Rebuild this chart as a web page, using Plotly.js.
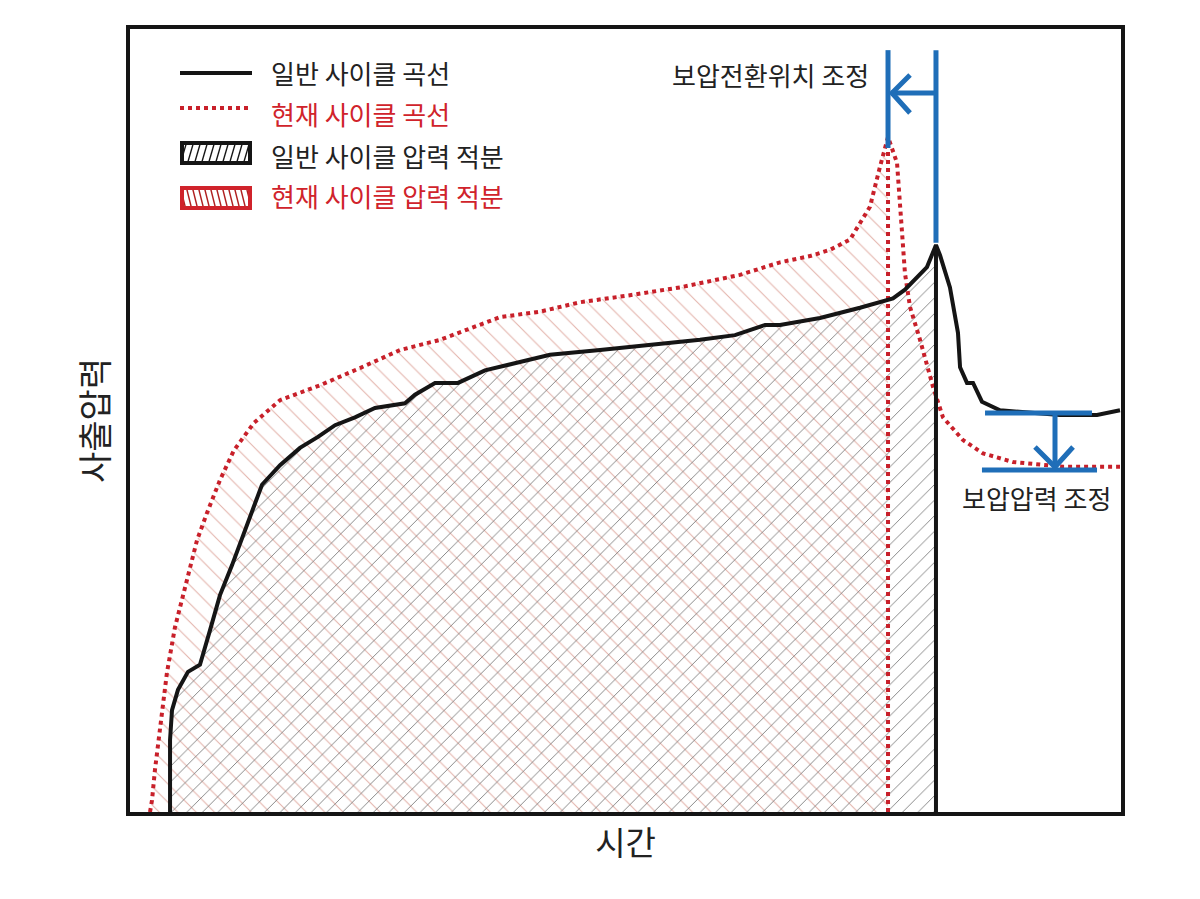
<!DOCTYPE html>
<html>
<head>
<meta charset="utf-8">
<script src="https://cdn.plot.ly/plotly-3.0.1.min.js"></script>
<style>
  html, body { margin: 0; padding: 0; background: #fff; }
  #chart { width: 1200px; height: 899px; }
</style>
</head>
<body>
<div id="chart"></div>
<script>
// ---- data (time, pressure in relative units) ----
const generalTime = [4.04,4.04,4.24,4.84,5.85,7.06,8.07,9.08,10.29,11.60,13.32,15.14,17.15,18.97,20.69,22.70,24.72,27.75,28.76,30.78,33.10,35.82,39.35,42.38,47.43,52.47,57.52,61.05,64.08,65.59,69.63,73.66,75.68,76.99,78.20,80.42,81.33,81.74,82.74,83.55,83.76,84.46,85.07,85.97,87.79,90.82,93.84,97.58,99.90];
const generalPressure = [0,9.2,13.0,15.6,17.9,18.8,23.2,27.7,31.5,36.0,41.8,44.3,46.5,47.9,49.4,50.4,51.6,52.2,53.3,54.8,54.8,56.4,57.5,58.4,59.0,59.6,60.3,60.9,62.2,62.2,63.1,64.4,65.1,65.6,66.7,69.6,72.4,71.1,67.0,61.2,56.8,54.8,54.8,52.4,51.3,51.0,50.7,50.7,51.3];

const currentTime = [2.02,2.22,2.52,2.72,3.23,3.73,4.54,5.75,6.76,7.77,9.08,10.49,12.51,15.14,19.17,23.21,27.25,31.28,37.34,41.37,45.41,50.45,55.50,61.55,65.59,68.62,70.64,72.65,74.67,75.68,76.49,77.40,77.70,78.20,78.71,79.72,81.03,82.04,84.06,86.08,89.10,94.15,99.90];
const currentPressure = [0,1.5,5.4,7.5,13.0,17.8,23.6,29.6,34.7,38.2,42.4,46.2,49.7,52.6,54.5,56.7,59.0,60.3,63.2,63.9,65.1,66.0,67.0,68.6,70.2,71.0,71.8,73.1,77.3,82.4,86.2,82.9,77.3,68.8,64.5,60.3,54.3,50.4,47.5,45.8,44.7,44.1,44.1];

const legendLabels = ['일반 사이클 곡선', '현재 사이클 곡선', '일반 사이클 압력 적분', '현재 사이클 압력 적분'];
const xTitle = '시간';
const yTitle = '사출압력';
const noteSwitch = '보압전환위치 조정';
const noteHold = '보압압력 조정';

// ---- styles ----
const BLACK = '#151515';
const RED = '#c8202a';
const RED_TEXT = '#d0232b';
const BLUE = '#1f6eb8';
const TEXT = '#222222';
const FONT = '"Noto Sans CJK KR", "Noto Sans", sans-serif';

function argmax(a) { let k = 0; for (let i = 1; i < a.length; i++) if (a[i] > a[k]) k = i; return k; }

const gPk = argmax(generalPressure);
const cPk = argmax(currentPressure);
const gPeakX = generalTime[gPk], gPeakY = generalPressure[gPk];
const cPeakX = currentTime[cPk], cPeakY = currentPressure[cPk];

// integral regions (rise up to peak, then straight down to zero)
const gFillX = generalTime.slice(0, gPk + 1).concat([gPeakX]);
const gFillY = generalPressure.slice(0, gPk + 1).concat([0]);
const cFillX = currentTime.slice(0, cPk + 1).concat([cPeakX]);
const cFillY = currentPressure.slice(0, cPk + 1).concat([0]);

const traces = [
  { x: cFillX, y: cFillY, type: 'scatter', mode: 'none', fill: 'toself',
    fillcolor: 'rgba(0,0,0,0)',
    fillpattern: { shape: '\\', fgcolor: '#e3b2aa', bgcolor: 'rgba(0,0,0,0)', size: 13, solidity: 0.08 },
    name: legendLabels[3], showlegend: false, hoverinfo: 'skip' },
  { x: gFillX, y: gFillY, type: 'scatter', mode: 'none', fill: 'toself',
    fillcolor: 'rgba(0,0,0,0)',
    fillpattern: { shape: '/', fgcolor: '#7a7a7a', bgcolor: 'rgba(0,0,0,0)', size: 11, solidity: 0.08 },
    name: legendLabels[2], showlegend: false, hoverinfo: 'skip' },
  { x: [cPeakX, cPeakX], y: [0, cPeakY], type: 'scatter', mode: 'lines',
    line: { color: RED, width: 4, dash: 'dot' }, showlegend: false, hoverinfo: 'skip' },
  { x: currentTime, y: currentPressure, type: 'scatter', mode: 'lines',
    line: { color: RED, width: 4, dash: 'dot' }, name: legendLabels[1], showlegend: false },
  { x: [gPeakX, gPeakX], y: [0, gPeakY], type: 'scatter', mode: 'lines',
    line: { color: BLACK, width: 4 }, showlegend: false, hoverinfo: 'skip' },
  { x: generalTime, y: generalPressure, type: 'scatter', mode: 'lines',
    line: { color: BLACK, width: 4 }, name: legendLabels[0], showlegend: false }
];

// hatched legend swatches as inline SVG images
function swatch(stroke, hatch, dir) {
  const line = dir === '/'
    ? "<line x1='0' y1='24' x2='7' y2='0' stroke='" + hatch + "' stroke-width='1.4'/>"
    : "<line x1='0' y1='0' x2='6' y2='24' stroke='" + hatch + "' stroke-width='1.4'/>";
  const w = dir === '/' ? 7 : 6;
  const svg = "<svg xmlns='http://www.w3.org/2000/svg' width='72' height='24' viewBox='0 0 72 24'>" +
    "<defs><pattern id='h' width='" + w + "' height='24' patternUnits='userSpaceOnUse'>" + line + "</pattern></defs>" +
    "<rect x='2' y='2' width='68' height='20' fill='white'/>" +
    "<rect x='2' y='2' width='68' height='20' fill='url(#h)' stroke='" + stroke + "' stroke-width='4'/></svg>";
  return 'data:image/svg+xml;charset=utf-8,' + encodeURIComponent(svg);
}

const L = 130, R = 79, T = 29, B = 87;
const PW = 1200 - L - R, PH = 899 - T - B;
const px2paperX = p => (p - L) / PW;
const py2paperY = p => (899 - B - p) / PH;

const images = [
  { source: swatch(BLACK, BLACK, '/'), xref: 'paper', yref: 'paper',
    x: px2paperX(180), y: py2paperY(141), sizex: 72 / PW, sizey: 24 / PH,
    xanchor: 'left', yanchor: 'top', sizing: 'stretch', layer: 'above' },
  { source: swatch('#d0232b', '#b02020', '\\'), xref: 'paper', yref: 'paper',
    x: px2paperX(180), y: py2paperY(186), sizex: 72 / PW, sizey: 24 / PH,
    xanchor: 'left', yanchor: 'top', sizing: 'stretch', layer: 'above' }
];

const shapes = [
  // legend line samples
  { type: 'line', xref: 'paper', yref: 'paper', x0: px2paperX(180), x1: px2paperX(252), y0: py2paperY(73), y1: py2paperY(73),
    line: { color: BLACK, width: 4 } },
  { type: 'line', xref: 'paper', yref: 'paper', x0: px2paperX(180), x1: px2paperX(252), y0: py2paperY(108), y1: py2paperY(108),
    line: { color: RED, width: 4, dash: 'dot' } },
  // switch-over position adjustment (blue)
  { type: 'line', xref: 'x', yref: 'y', x0: cPeakX, x1: cPeakX, y0: cPeakY - 1.4, y1: 97.3, line: { color: BLUE, width: 5 } },
  { type: 'line', xref: 'x', yref: 'y', x0: gPeakX, x1: gPeakX, y0: gPeakY + 0.3, y1: 97.3, line: { color: BLUE, width: 5 } },
  { type: 'line', xref: 'x', yref: 'y', x0: cPeakX + 0.3, x1: gPeakX, y0: 91.83, y1: 91.83, line: { color: BLUE, width: 5 } },
  { type: 'path', xref: 'x', yref: 'y', path: 'M 78.71,94.13 L 76.89,91.83 L 78.71,89.27', line: { color: BLUE, width: 5 } },
  // holding pressure adjustment (blue)
  { type: 'line', xref: 'x', yref: 'y', x0: 86.28, x1: 97.07, y0: 50.96, y1: 50.96, line: { color: BLUE, width: 5 } },
  { type: 'line', xref: 'x', yref: 'y', x0: 85.97, x1: 97.58, y0: 43.68, y1: 43.68, line: { color: BLUE, width: 5 } },
  { type: 'line', xref: 'x', yref: 'y', x0: 93.34, x1: 93.34, y0: 50.96, y1: 44.2, line: { color: BLUE, width: 5 } },
  { type: 'path', xref: 'x', yref: 'y', path: 'M 91.32,46.62 L 93.34,44.06 L 95.16,46.62', line: { color: BLUE, width: 5 } }
];

const legendRowsY = [72.5, 113, 155, 195];
const legendColors = [TEXT, RED_TEXT, TEXT, RED_TEXT];
const annotations = legendLabels.map((t, i) => ({
  text: t, xref: 'paper', yref: 'paper', x: px2paperX(269), y: py2paperY(legendRowsY[i]),
  xanchor: 'left', yanchor: 'middle', showarrow: false,
  font: { family: FONT, size: 26, color: legendColors[i] }
}));
annotations.push(
  { text: noteSwitch, xref: 'x', yref: 'y', x: 74.8, y: 94.13, xanchor: 'right', yanchor: 'middle',
    showarrow: false, font: { family: FONT, size: 26, color: TEXT } },
  { text: noteHold, xref: 'x', yref: 'y', x: 91.5, y: 40.23, xanchor: 'center', yanchor: 'middle',
    showarrow: false, font: { family: FONT, size: 26, color: TEXT } }
);

const axisCommon = {
  range: [0, 100], showgrid: false, zeroline: false, showticklabels: false, ticks: '',
  showline: true, linecolor: BLACK, linewidth: 4, mirror: true, fixedrange: true, automargin: false
};

const layout = {
  width: 1200, height: 899,
  margin: { l: L, r: R, t: T, b: B },
  paper_bgcolor: '#ffffff', plot_bgcolor: '#ffffff',
  font: { family: FONT, color: TEXT },
  showlegend: false,
  xaxis: Object.assign({}, axisCommon, { title: { text: xTitle, font: { family: FONT, size: 33, color: TEXT }, standoff: 18 } }),
  yaxis: Object.assign({}, axisCommon, { title: { text: yTitle, font: { family: FONT, size: 34, color: TEXT }, standoff: 8 } }),
  shapes: shapes,
  annotations: annotations,
  images: images
};

Plotly.newPlot('chart', traces, layout, { displayModeBar: false, staticPlot: true });
</script>
</body>
</html>
